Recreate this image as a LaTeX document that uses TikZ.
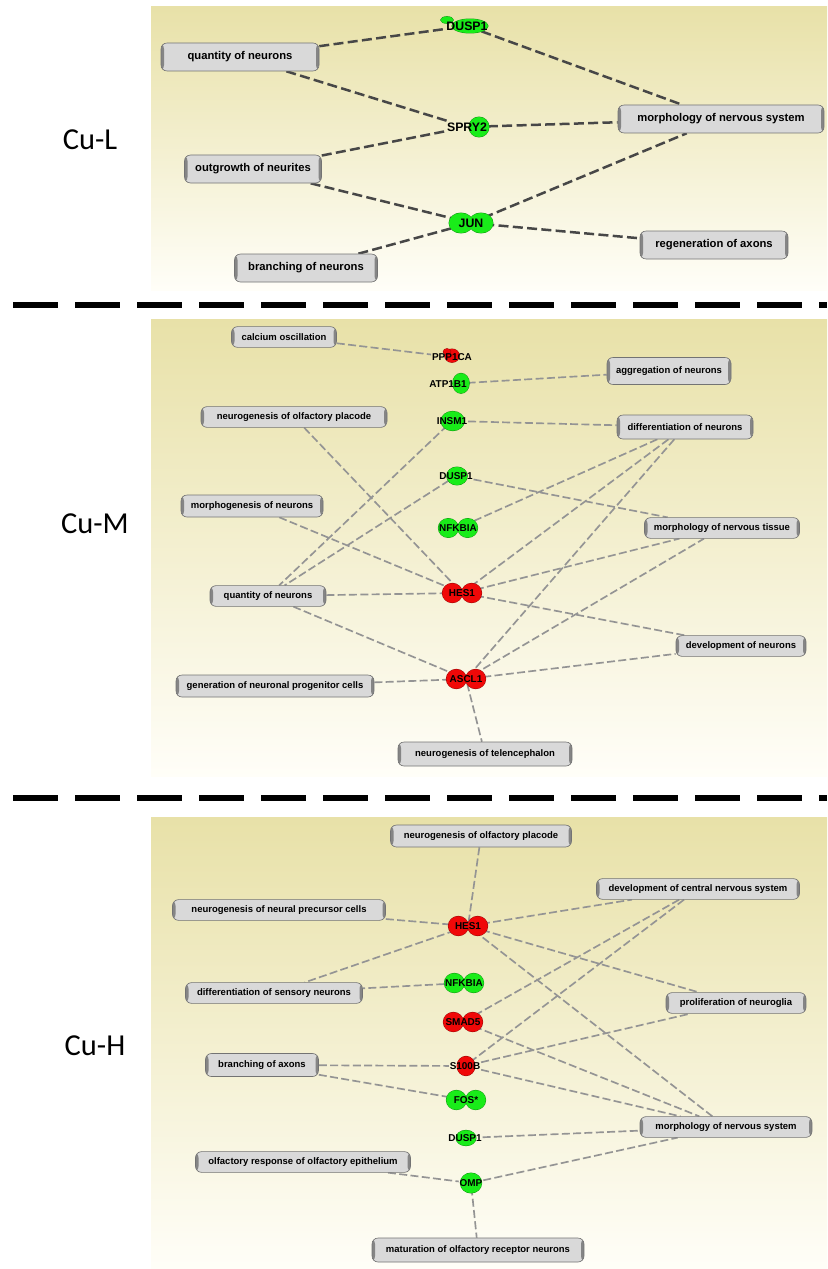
\documentclass[tikz,border=0pt]{standalone}
\usepackage{fontspec}
\setmainfont{Liberation Sans}
\newfontfamily\tagfont{Carlito}

\definecolor{khaki}{RGB}{232,225,168}
\definecolor{cream}{RGB}{255,254,248}
\definecolor{upgreen}{RGB}{25,236,25}
\definecolor{downred}{RGB}{240,8,8}

\pgfdeclarelayer{panel}
\pgfdeclarelayer{links}
\pgfdeclarelayer{blobs}
\pgfsetlayers{panel,links,blobs,main}

% two lobes behind a gene name: gene, colour, lobe offset, lobe size
\newcommand\twinblob[4]{%
  \begin{pgfonlayer}{blobs}
    \draw[#2!65!black, line width=0.8pt] ([xshift=-#3]#1.center) ellipse (#4) ([xshift=#3]#1.center) ellipse (#4);
    \fill[#2] ([xshift=-#3]#1.center) ellipse (#4) ([xshift=#3]#1.center) ellipse (#4);
  \end{pgfonlayer}}
% one lobe behind a gene name: gene, colour, offset, size
\newcommand\oneblob[4]{%
  \begin{pgfonlayer}{blobs}
    \draw[#2!65!black, line width=0.8pt] ([shift={#3}]#1.center) ellipse (#4);
    \fill[#2] ([shift={#3}]#1.center) ellipse (#4);
  \end{pgfonlayer}}

\begin{document}
\begin{tikzpicture}[x=0.3mm, y=-0.3mm,
    fn/.style={
      % The shape:
      rectangle, rounded corners=1.8mm, inner xsep=1.5mm, inner ysep=0.5mm,
      minimum height=6.2mm,
      % The rest
      draw=black!55, line width=0.5pt, fill=black!15,
      path picture={
        \fill[black!48] (path picture bounding box.south west) rectangle ([xshift=0.9mm]path picture bounding box.north west);
        \fill[black!48] (path picture bounding box.south east) rectangle ([xshift=-0.9mm]path picture bounding box.north east);},
      font=\bfseries\fontsize{8.1}{9}\selectfont},
    fnL/.style={fn, minimum height=8.4mm, font=\bfseries\fontsize{9.6}{11}\selectfont},
    gene/.style={inner sep=0.6pt, font=\bfseries\fontsize{8.5}{9}\selectfont},
    geneL/.style={gene, font=\bfseries\fontsize{10.5}{11}\selectfont},
    linkL/.style={draw=black!72, line width=0.75mm, dash pattern=on 3mm off 1.3mm},
    link/.style={draw=black!42, line width=0.5mm, dash pattern=on 2.4mm off 1mm},
    cut/.style={line width=1.8mm, dash pattern=on 13.5mm off 5.1mm},
    tag/.style={font=\tagfont\fontsize{26}{30}\selectfont}]
  \useasboundingbox (0,0) rectangle (827,1269);

  % panels and separators
  \begin{pgfonlayer}{panel}
    \shade[top color=khaki, bottom color=cream] (151,7) rectangle (827,290);
    \shade[top color=khaki, bottom color=cream] (151,319) rectangle (827,776);
    \shade[top color=khaki, bottom color=cream] (151,817) rectangle (827,1269);
  \end{pgfonlayer}
  \draw[cut] (13,305) -- (827,305);
  \draw[cut] (13,798) -- (827,798);

  \node[tag] (tagL) at (90,140) {Cu-L};
  \node[tag] (tagM) at (95,524) {Cu-M};
  \node[tag] (tagH) at (95,1046) {Cu-H};

  % Cu-L
  \node[fnL, minimum width=47.4mm] (qtyL) at (240,57) {quantity of neurons};
  \node[fnL, minimum width=61.8mm] (mnsL) at (721,119) {morphology of nervous system};
  \node[fnL, minimum width=41.1mm] (outL) at (253,169) {outgrowth of neurites};
  \node[fnL, minimum width=44.4mm] (regL) at (714,245) {regeneration of axons};
  \node[fnL, minimum width=42.9mm] (brnL) at (306,268) {branching of neurons};
  \node[geneL] (duspL) at (467,26) {DUSP1};
  \node[geneL] (spryL) at (467,127) {SPRY2};
  \node[geneL] (junL) at (471,223) {JUN};
  \oneblob{duspL}{upgreen}{(0.9mm,0)}{5.4mm and 2.1mm}
  \oneblob{duspL}{upgreen}{(-6mm,1.8mm)}{1.9mm and 1mm}
  \oneblob{spryL}{upgreen}{(3.6mm,0)}{3mm and 3mm}
  \twinblob{junL}{upgreen}{3mm}{3.6mm and 3mm}

  % Cu-M
  \node[fn, minimum width=31.5mm] (calc) at (284,337) {calcium oscillation};
  \node[fn, minimum width=37.2mm, minimum height=8.1mm] (aggr) at (669,371) {aggregation of neurons};
  \node[fn, minimum width=55.8mm] (placM) at (294,417) {neurogenesis of olfactory placode};
  \node[fn, minimum width=40.8mm, minimum height=7.2mm] (diffM) at (685,427) {differentiation of neurons};
  \node[fn, minimum width=42.6mm, minimum height=6.6mm] (mgen) at (252,506) {morphogenesis of neurons};
  \node[fn, minimum width=46.5mm] (mtis) at (722,528) {morphology of nervous tissue};
  \node[fn, minimum width=34.8mm] (qtyM) at (268,596) {quantity of neurons};
  \node[fn, minimum width=39mm] (devM) at (741,646) {development of neurons};
  \node[fn, minimum width=59.4mm, minimum height=6.6mm] (prog) at (275,686) {generation of neuronal progenitor cells};
  \node[fn, minimum width=52.2mm, minimum height=7.2mm] (tele) at (485,754) {neurogenesis of telencephalon};
  \node[gene] (ppp) at (452,357) {PPP1CA};
  \node[gene] (atp) at (448,384) {ATP1B1};
  \node[gene] (insm) at (452,421) {INSM1};
  \node[gene] (duspM) at (456,476) {DUSP1};
  \node[gene] (nfkM) at (458,528) {NFKBIA};
  \node[gene] (hesM) at (462,593) {HES1};
  \node[gene] (ascl) at (466,679) {ASCL1};
  \oneblob{ppp}{downred}{(0,0.4mm)}{2.2mm and 2mm}
  \oneblob{ppp}{downred}{(-1.5mm,1.6mm)}{1.1mm and 0.9mm}
  \oneblob{atp}{upgreen}{(3.9mm,0.2mm)}{2.5mm and 3mm}
  \oneblob{insm}{upgreen}{(0.2mm,0)}{3.5mm and 2.9mm}
  \oneblob{duspM}{upgreen}{(0.3mm,0)}{3.1mm and 2.7mm}
  \twinblob{nfkM}{upgreen}{2.9mm}{3mm and 2.85mm}
  \twinblob{hesM}{downred}{2.9mm}{3mm and 2.9mm}
  \twinblob{ascl}{downred}{2.9mm}{3mm and 2.9mm}

  % Cu-H
  \node[fn, minimum width=54.3mm, minimum height=6.6mm] (placH) at (481,836) {neurogenesis of olfactory placode};
  \node[fn, minimum width=60.9mm] (dcns) at (698,889) {development of central nervous system};
  \node[fn, minimum width=63.9mm] (npc) at (279,910) {neurogenesis of neural precursor cells};
  \node[fn, minimum width=53.1mm] (sens) at (274,993) {differentiation of sensory neurons};
  \node[fn, minimum width=42mm] (glia) at (736,1003) {proliferation of neuroglia};
  \node[fn, minimum width=33.9mm, minimum height=6.9mm] (bax) at (262,1065) {branching of axons};
  \node[fn, minimum width=51.6mm] (mnsH) at (726,1127) {morphology of nervous system};
  \node[fn, minimum width=64.5mm] (olf) at (303,1162) {olfactory response of olfactory epithelium};
  \node[fn, minimum width=63.6mm, minimum height=7.2mm] (matu) at (478,1250) {maturation of olfactory receptor neurons};
  \node[gene] (hesH) at (468,926) {HES1};
  \node[gene] (nfkH) at (464,983) {NFKBIA};
  \node[gene] (smad) at (463,1022) {SMAD5};
  \node[gene] (s100) at (465,1066) {S100B};
  \node[gene] (fos) at (466,1100) {FOS*};
  \node[gene] (duspH) at (465,1138) {DUSP1};
  \node[gene] (omp) at (471,1183) {OMP};
  \twinblob{hesH}{downred}{2.9mm}{3mm and 2.9mm}
  \twinblob{nfkH}{upgreen}{2.9mm}{3mm and 2.9mm}
  \twinblob{smad}{downred}{2.9mm}{3mm and 2.9mm}
  \oneblob{s100}{downred}{(0.3mm,0)}{2.7mm and 2.9mm}
  \twinblob{fos}{upgreen}{2.9mm}{3mm and 2.9mm}
  \oneblob{duspH}{upgreen}{(0.3mm,0)}{3mm and 2.3mm}
  \oneblob{omp}{upgreen}{(0,0)}{3.2mm and 3mm}

  % connectors
  \begin{pgfonlayer}{links}
    \draw[linkL] (qtyL) -- (duspL) (duspL) -- (mnsL) (qtyL) -- (spryL)
      (spryL) -- (mnsL) (outL) -- (spryL) (outL) -- (junL)
      (junL) -- (mnsL) (junL) -- (regL) (brnL) -- (junL);
    \draw[link] (calc) -- (ppp) (atp) -- (aggr) (insm) -- (diffM)
      (placM) -- (hesM) (insm) -- (qtyM) (duspM) -- (qtyM)
      (duspM) -- (mtis) (diffM) -- (nfkM) (diffM) -- (hesM)
      (diffM) -- (ascl) (mgen) -- (hesM) (qtyM) -- (hesM)
      (qtyM) -- (ascl) (hesM) -- (mtis) (hesM) -- (devM)
      (ascl) -- (mtis) (ascl) -- (devM) (prog) -- (ascl) (ascl) -- (tele);
    \draw[link] (placH) -- (hesH) (npc) -- (hesH) (hesH) -- (dcns)
      (hesH) -- (sens) (hesH) -- (glia) (hesH) -- (mnsH)
      (nfkH) -- (sens) (dcns) -- (smad) (dcns) -- (s100)
      (smad) -- (mnsH) (s100) -- (glia) (bax) -- (s100)
      (bax) -- (fos) (s100) -- (mnsH) (duspH) -- (mnsH)
      (olf) -- (omp) (omp) -- (mnsH) (omp) -- (matu);
  \end{pgfonlayer}
\end{tikzpicture}
\end{document}
